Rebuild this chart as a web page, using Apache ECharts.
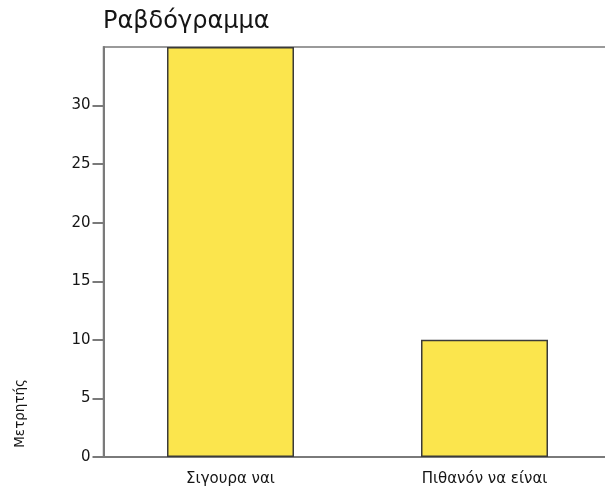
<!DOCTYPE html>
<html>
<head>
<meta charset="utf-8">
<script src="https://cdn.jsdelivr.net/npm/echarts@6/dist/echarts.min.js"></script>
<style>
html,body{margin:0;padding:0;background:#fff;}
#chart{width:605px;height:493px;}
</style>
</head>
<body>
<div id="chart"></div>
<script>
var categories = ['Σιγουρα ναι', 'Πιθανόν να είναι'];
var counts = [35, 10];
var yTicks = [0, 5, 10, 15, 20, 25, 30];
var titleText = 'Ραβδόγραμμα';
var yName = 'Μετρητής';

var chart = echarts.init(document.getElementById('chart'));
var axisGray = '#7a7a7a';
var textCol = '#151515';
var font = 'DejaVu Sans';
chart.setOption({
  animation: false,
  backgroundColor: '#ffffff',
  title: {
    text: titleText,
    left: 103,
    top: 10,
    padding: 0,
    textStyle: {fontFamily: font, fontSize: 24, fontWeight: 'normal', color: textCol}
  },
  grid: {
    left: 103.5, top: 47, bottom: 36, width: 508,
    outerBoundsMode: 'none',
    containLabel: false,
    show: true, borderColor: axisGray, borderWidth: 1.5, backgroundColor: 'transparent'
  },
  xAxis: {
    type: 'category',
    data: categories,
    axisLine: {lineStyle: {color: axisGray, width: 2}},
    axisTick: {alignWithLabel: true, length: 12, lineStyle: {color: axisGray, width: 2}},
    axisLabel: {fontFamily: font, fontSize: 15, color: textCol, margin: 15}
  },
  yAxis: {
    type: 'value',
    min: 0, max: 35, interval: 5,
    splitLine: {show: false},
    axisLine: {show: true, lineStyle: {color: axisGray, width: 2}},
    axisTick: {show: true, length: 11, customValues: yTicks, lineStyle: {color: axisGray, width: 2}},
    axisLabel: {fontFamily: font, fontSize: 15, color: textCol, margin: 13, customValues: yTicks}
  },
  graphic: [{
    type: 'text',
    left: 13,
    top: 379,
    style: {text: yName, fontFamily: font, fontSize: 13.5, fill: textCol},
    rotation: Math.PI / 2,
    originX: 0, originY: 0
  }],
  series: [{
    type: 'bar',
    data: counts,
    barWidth: '50%',
    itemStyle: {color: '#fbe54d', borderColor: '#3a3a3a', borderWidth: 1.5}
  }]
});
</script>
</body>
</html>
